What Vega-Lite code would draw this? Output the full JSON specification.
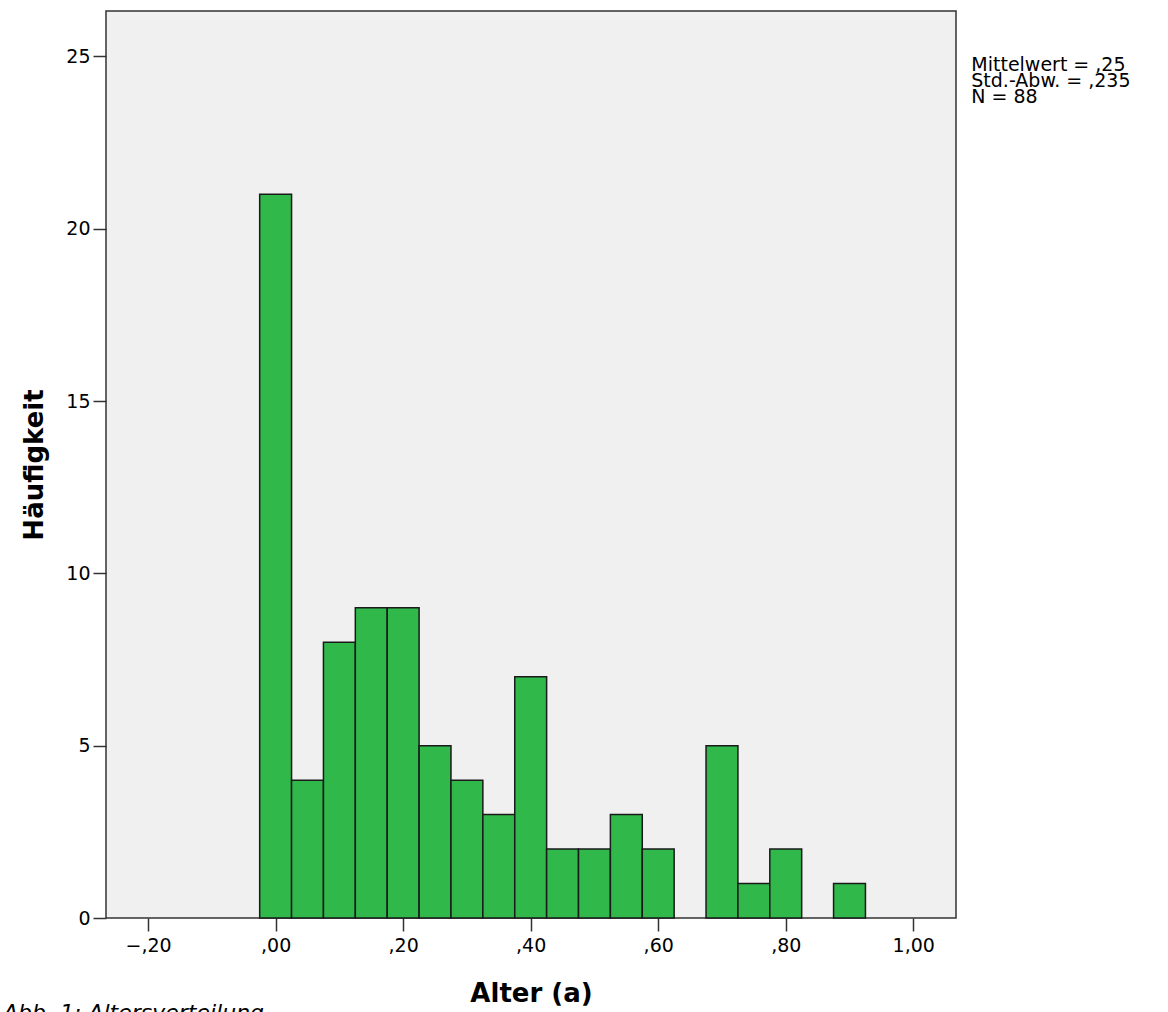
{
  "$schema": "https://vega.github.io/schema/vega-lite/v6.json",
  "width": 850,
  "height": 907,
  "autosize": "none",
  "padding": {"left": 106, "top": 11, "right": 212, "bottom": 94},
  "background": "#ffffff",
  "config": {
    "font": "DejaVu Sans",
    "view": {"fill": "#f0f0f0", "stroke": "#333333", "strokeWidth": 1.5}
  },
  "title": {
    "text": "Abb. 1: Altersverteilung",
    "orient": "bottom",
    "anchor": "start",
    "frame": "group",
    "dx": -103,
    "offset": -3,
    "font": "DejaVu Sans",
    "fontSize": 22,
    "fontStyle": "italic",
    "fontWeight": "normal",
    "color": "#000000"
  },
  "data": {
    "values": [
      {"start": -0.025, "end": 0.025, "count": 21},
      {"start": 0.025, "end": 0.075, "count": 4},
      {"start": 0.075, "end": 0.125, "count": 8},
      {"start": 0.125, "end": 0.175, "count": 9},
      {"start": 0.175, "end": 0.225, "count": 9},
      {"start": 0.225, "end": 0.275, "count": 5},
      {"start": 0.275, "end": 0.325, "count": 4},
      {"start": 0.325, "end": 0.375, "count": 3},
      {"start": 0.375, "end": 0.425, "count": 7},
      {"start": 0.425, "end": 0.475, "count": 2},
      {"start": 0.475, "end": 0.525, "count": 2},
      {"start": 0.525, "end": 0.575, "count": 3},
      {"start": 0.575, "end": 0.625, "count": 2},
      {"start": 0.675, "end": 0.725, "count": 5},
      {"start": 0.725, "end": 0.775, "count": 1},
      {"start": 0.775, "end": 0.825, "count": 2},
      {"start": 0.875, "end": 0.925, "count": 1}
    ]
  },
  "layer": [
    {
      "mark": {"type": "rect", "fill": "#30b84a", "stroke": "#1a1a1a", "strokeWidth": 1.5},
      "encoding": {
        "x": {
          "field": "start",
          "type": "quantitative",
          "scale": {"domain": [-0.266, 1.067], "nice": false, "zero": false},
          "axis": {
            "title": "Alter (a)",
            "values": [-0.2, 0, 0.2, 0.4, 0.6, 0.8, 1.0],
            "labelExpr": "replace(replace(format(datum.value, '.2f'), '0.', ','), '.', ',')",
            "grid": false,
            "domain": false,
            "tickSize": 13,
            "tickWidth": 1.5,
            "tickColor": "#333333",
            "labelFont": "DejaVu Sans",
            "labelFontSize": 19,
            "labelColor": "#000000",
            "labelPadding": 5,
            "titleFont": "DejaVu Sans",
            "titleFontSize": 26,
            "titleFontWeight": "bold",
            "titleColor": "#000000",
            "titlePadding": 25
          }
        },
        "x2": {"field": "end"},
        "y": {
          "field": "count",
          "type": "quantitative",
          "scale": {"domain": [0, 26.32], "nice": false, "zero": true},
          "axis": {
            "title": "Häufigkeit",
            "values": [0, 5, 10, 15, 20, 25],
            "grid": false,
            "domain": false,
            "tickSize": 13,
            "tickWidth": 1.5,
            "tickColor": "#333333",
            "labelFont": "DejaVu Sans",
            "labelFontSize": 19,
            "labelColor": "#000000",
            "labelPadding": 3,
            "titleFont": "DejaVu Sans",
            "titleFontSize": 26,
            "titleFontWeight": "bold",
            "titleColor": "#000000",
            "titlePadding": 18
          }
        },
        "y2": {"datum": 0}
      }
    },
    {
      "data": {"values": [{"stat": "summary"}]},
      "mark": {
        "type": "text",
        "align": "left",
        "baseline": "top",
        "fontSize": 19,
        "lineHeight": 16,
        "font": "DejaVu Sans",
        "color": "#000000",
        "text": ["Mittelwert = ,25", "Std.-Abw. = ,235", "N = 88"]
      },
      "encoding": {
        "x": {"datum": 1.091, "type": "quantitative"},
        "y": {"datum": 25.0, "type": "quantitative"}
      }
    }
  ]
}
